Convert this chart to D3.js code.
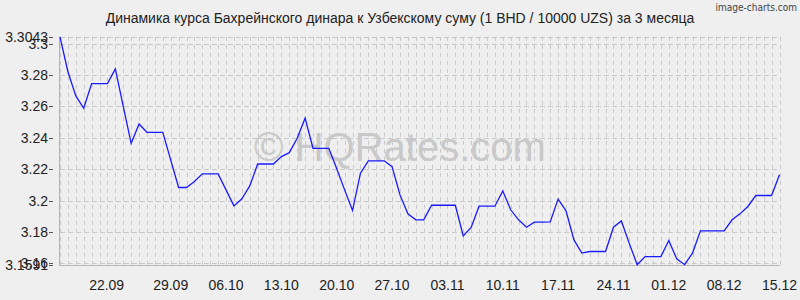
<!DOCTYPE html>
<html>
<head>
<meta charset="utf-8">
<script src="https://cdn.jsdelivr.net/npm/d3@7"></script>
<style>
body{margin:0;background:#efefef;}
svg{display:block;font-family:"Liberation Sans",Arial,sans-serif;}
</style>
</head>
<body>
<div id="container"></div>
<script>
// BHD/UZS (per 10000), daily, 15.09 - 15.12
const rates = [
 3.3043,3.2821,3.2667,3.2588,3.2745,3.2745,3.2745,3.2839,3.2600,3.2365,
 3.2488,3.2435,3.2435,3.2435,3.2259,3.2083,3.2083,3.2121,3.2170,3.2170,
 3.2170,3.2068,3.1966,3.2011,3.2093,3.2233,3.2233,3.2233,3.2280,3.2305,
 3.2397,3.2525,3.2333,3.2333,3.2333,3.2202,3.2068,3.1936,3.2174,3.2253,
 3.2253,3.2253,3.2216,3.2036,3.1915,3.1877,3.1877,3.1970,3.1970,3.1970,
 3.1970,3.1775,3.1828,3.1964,3.1964,3.1964,3.2061,3.1941,3.1877,3.1830,
 3.1862,3.1862,3.1864,3.2009,3.1934,3.1749,3.1665,3.1675,3.1675,3.1675,
 3.1830,3.1870,3.1727,3.1591,3.1643,3.1643,3.1643,3.1745,3.1628,3.1591,
 3.1665,3.1807,3.1807,3.1807,3.1807,3.1877,3.1915,3.1962,3.2032,3.2032,
 3.2032,3.2165
]
const yTicks = [3.3043,3.3,3.28,3.26,3.24,3.22,3.2,3.18,3.16,3.1591]
const yLabels = ["3.3043","3.3","3.28","3.26","3.24","3.22","3.2","3.18","3.16","3.1591"]
const xLabels = ["22.09","29.09","06.10","13.10","20.10","27.10","03.11","10.11","17.11","24.11","01.12","08.12","15.12"]
const xLabelIdx = [5.9,14,21,28,35,42,49,56,63,70,77,84,91]

const width=800, height=300
const plotL=60, plotR=779.5, plotT=36.9, plotB=264.7

const svg = d3.select("#container").append("svg")
  .attr("width",width).attr("height",height)

svg.append("rect").attr("width",width).attr("height",height).attr("fill","#efefef")

const x = d3.scaleLinear().domain([0,rates.length-1]).range([plotL,plotR])
const y = d3.scaleLinear().domain([d3.min(rates),d3.max(rates)]).range([plotB,plotT])

// grid
const grid = svg.append("g").attr("stroke","#c8c8c8").attr("stroke-width",1)
grid.selectAll(".vg").data(d3.range(rates.length)).enter().append("line")
  .attr("x1",d=>Math.round(x(d))+0.5).attr("x2",d=>Math.round(x(d))+0.5)
  .attr("y1",plotT).attr("y2",plotB)
  .attr("stroke-dasharray","4,4")
grid.selectAll(".hg").data(yTicks).enter().append("line")
  .attr("x1",plotL).attr("x2",plotR)
  .attr("y1",d=>Math.round(y(d))+0.5).attr("y2",d=>Math.round(y(d))+0.5)
  .attr("stroke-dasharray","5,3")

// watermark
svg.append("text")
  .attr("x",400).attr("y",161)
  .attr("text-anchor","middle")
  .attr("font-size",40)
  .attr("fill","#c9c9c9")
  .text("© HQRates.com")

// axes lines
svg.append("line").attr("x1",plotL-0.5).attr("x2",plotL-0.5).attr("y1",plotT).attr("y2",plotB+1)
  .attr("stroke","#b4b4b4")
svg.append("line").attr("x1",plotL).attr("x2",plotR).attr("y1",Math.round(plotB)+0.5).attr("y2",Math.round(plotB)+0.5)
  .attr("stroke","#b4b4b4")

// data line
svg.append("path")
  .datum(rates)
  .attr("fill","none")
  .attr("stroke","#1a1aff")
  .attr("stroke-width",1.3)
  .attr("d",d3.line().x((d,i)=>x(i)).y(d=>y(d)))

// y labels
const yl = svg.append("g").attr("font-size",14).attr("fill","#222")
yl.selectAll("text").data(yTicks).enter().append("text")
  .attr("x",48).attr("y",d=>y(d)).attr("dy","0.36em")
  .attr("text-anchor","end")
  .text((d,i)=>yLabels[i])
yl.selectAll("line").data(yTicks).enter().append("line")
  .attr("x1",49).attr("x2",53)
  .attr("y1",d=>Math.round(y(d))+0.5).attr("y2",d=>Math.round(y(d))+0.5)
  .attr("stroke","#555")

// x labels
svg.append("g").attr("font-size",14).attr("fill","#222")
  .selectAll("text").data(xLabels).enter().append("text")
  .attr("x",(d,i)=>x(xLabelIdx[i])).attr("y",290)
  .attr("text-anchor","middle")
  .text(d=>d)

// title
svg.append("text")
  .attr("x",400).attr("y",23)
  .attr("text-anchor","middle")
  .attr("font-size",14).attr("fill","#222")
  .text("Динамика курса Бахрейнского динара к Узбекскому суму (1 BHD / 10000 UZS) за 3 месяца")

svg.append("text")
  .attr("x",797).attr("y",11)
  .attr("text-anchor","end")
  .attr("font-family","'Liberation Sans Narrow','DejaVu Sans Condensed',sans-serif")
  .attr("font-size",10).attr("fill","#444")
  .text("image-charts.com")
</script>
</body>
</html>
